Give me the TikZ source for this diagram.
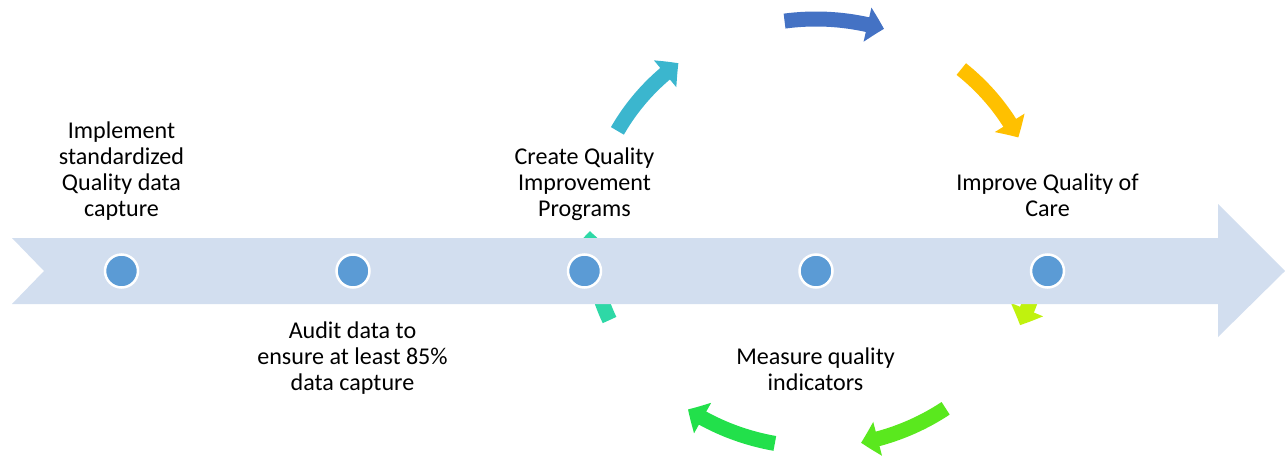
\documentclass[tikz,border=0pt]{standalone}
\usepackage{fontspec}
\setmainfont{Carlito}
\usetikzlibrary{arrows.meta,bending,positioning}

\definecolor{bandblue}{RGB}{210,222,239}
\definecolor{dotblue}{RGB}{91,155,213}
\definecolor{cteal}{RGB}{59,182,206}
\definecolor{cblue}{RGB}{68,114,196}
\definecolor{cyellow}{RGB}{255,192,0}
\definecolor{clime}{RGB}{192,242,14}
\definecolor{cgreen}{RGB}{90,232,30}
\definecolor{cgreentwo}{RGB}{34,224,75}
\definecolor{caqua}{RGB}{46,216,166}

\tikzset{
  milestone/.style={circle, fill=dotblue, draw=white, line width=0.05cm,
    minimum size=0.66cm, inner sep=0pt},
  phase/.style={align=center, inner sep=0pt, text depth=0.1cm,
    font=\fontsize{13.7}{14.8}\selectfont},
  cycarrow/.style={line width=0.3cm,
    -{Triangle[width=0.68cm,length=0.34cm,bend]}},
}

\begin{document}
\begin{tikzpicture}
\useasboundingbox (0,0) rectangle (25.7,9.14);
\coordinate (c) at (16.32,4.48);

\draw[cycarrow, cteal] ([shift={(151.5:4.52 and 4.28)}]c)
  arc[start angle=151.5, end angle=127.5, x radius=4.52, y radius=4.28];
\draw[cycarrow, cblue] ([shift={(98:4.52 and 4.28)}]c)
  arc[start angle=98, end angle=72.5, x radius=4.52, y radius=4.28];
\draw[cycarrow, cyellow] ([shift={(50:4.52 and 4.28)}]c)
  arc[start angle=50, end angle=26.5, x radius=4.52, y radius=4.28];
\draw[cycarrow, clime] ([shift={(-1.5:4.52 and 4.28)}]c)
  arc[start angle=-1.5, end angle=-25.5, x radius=4.52, y radius=4.28];
\draw[cycarrow, cgreen] ([shift={(-55:4.52 and 4.28)}]c)
  arc[start angle=-55, end angle=-78.5, x radius=4.52, y radius=4.28];
\draw[cycarrow, cgreentwo] ([shift={(-100.5:4.52 and 4.28)}]c)
  arc[start angle=-100.5, end angle=-124.5, x radius=4.52, y radius=4.28];
\draw[cycarrow, caqua] ([shift={(-156:4.52 and 4.28)}]c)
  arc[start angle=-156, end angle=-180.5, x radius=4.52, y radius=4.28];

\fill[bandblue] (0.24,4.38) -- (24.36,4.38) -- (24.36,5.06) -- (25.7,3.72)
  -- (24.36,2.40) -- (24.36,3.06) -- (0.24,3.06) -- (0.88,3.72) -- cycle;

\node[milestone] at (2.43,3.72) (d1) {};
\node[milestone, right=3.92cm of d1] (d2) {};
\node[milestone, right=3.92cm of d2] (d3) {};
\node[milestone, right=3.92cm of d3] (d4) {};
\node[milestone, right=3.92cm of d4] (d5) {};

\node[phase, above=0.62cm of d1] (t1) {Implement\\standardized\\Quality data\\capture};
\node[phase, anchor=south] at (7.05,1.22) (t2) {Audit data to\\ensure at least 85\%\\data capture};
\node[phase, above=0.62cm of d3] (t3) {Create Quality\\Improvement\\Programs};
\node[phase, anchor=south] at (16.31,1.22) (t4) {Measure quality\\indicators};
\node[phase, above=0.62cm of d5] (t5) {Improve Quality of\\Care};
\end{tikzpicture}
\end{document}
